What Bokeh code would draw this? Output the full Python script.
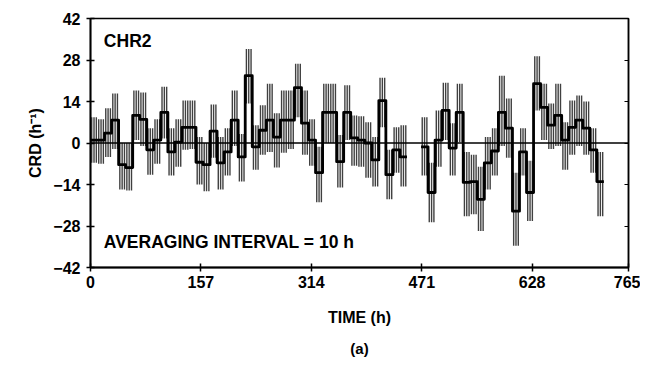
import numpy as np
from bokeh.plotting import figure
from bokeh.models import Range1d, FixedTicker, Span, Label, LinearAxis, Title, ColumnDataSource
from bokeh.embed import file_html
from bokeh.resources import INLINE

nan = float("nan")

# ---- data ----
bin_start = list(range(0, 730, 10))   # 10 h averaging bins
bin_width = 10
mean = [1, 1, 3.3, 7.7, -7.3, -8.3, 9.3, 8, -2.3, 1,
        10.3, -3, 0.3, 5.3, 5.3, -6.5, -7.3, 4, -6.7, -3,
        7.7, -4.7, 22.7, -1.3, 4.3, 7.7, 2, 7.7, 7.7, 18.7,
        6.7, 1, -10, 10.3, 10.3, -6.3, 10.3, 1.7, 1, 0,
        -5.7, 14.3, -10.7, -2.3, -4.7, nan, nan, -1.3, -16.7, 1,
        11, -1.7, 10.3, -13.3, -13, -19, -6.7, -2.7, 10.3, 5,
        -23, -3, -16.7, 20, 12, 6, 9.3, 1, 5.3, 7.7,
        5, -2.3, -13]
upper = [8.7, 8, 11.7, 16.7, 0, 0, 17.7, 17, 5, 8,
         19, 5, 8, 14.3, 14.3, 2, 0, 13, 2, 5,
         17.7, 3, 31.7, 6, 12.7, 20, 10, 17.7, 17.7, 26.7,
         17.7, 8, -1.3, 20, 20, 2.7, 19.5, 9.3, 9, 7,
         2, 22, -2.3, 5.3, 6, nan, nan, 8.7, -6.7, 11,
         20.3, 6.7, 20, -3, -4, -8, 2, 5, 22.7, 15,
         -10, 5, -6, 29.3, 20, 13.3, 20, 7, 14.3, 16,
         14, 5, -3]
lower = [-6.7, -7, -4.7, -2, -15.7, -16, 1, -1, -10.7, -7,
         1.5, -11, -8, -2.3, -2, -14, -16.3, -5, -15.7, -11,
         -1, -13, 13.3, -9, -4, -3, -8.3, -3.3, -2, 8.7,
         -4, -7.7, -20, 0, 0, -15, 1, -7.7, -8, -11.7,
         -14.7, 5.3, -19, -10, -14.7, nan, nan, -11, -26.7, -8,
         1, -11, 0.3, -24.7, -24, -29.7, -15.7, -11, -1, -5,
         -34.7, -11, -26.3, 11, 1, -2, -1, -9, -4, -1,
         -4, -10, -24.7]
x_ticks = [0, 157, 314, 471, 628, 765]
y_ticks = [-42, -28, -14, 0, 14, 28, 42]

# ---- derived geometry ----
s = np.array(bin_start, dtype=float)
m = np.array(mean, dtype=float)
hi = np.array(upper, dtype=float)
lo = np.array(lower, dtype=float)

offsets = np.array([1.7, 5.0, 8.3])
seg_x = (s[:, None] + offsets[None, :]).ravel()
seg_y0 = np.repeat(lo, len(offsets))
seg_y1 = np.repeat(hi, len(offsets))
ok = ~np.isnan(seg_y0)
bars = ColumnDataSource(dict(x=seg_x[ok], y0=seg_y0[ok], y1=seg_y1[ok]))

step_x = np.column_stack([s, s + bin_width]).ravel()
step_y = np.repeat(m, 2)

FONT = "Liberation Sans"

p = figure(frame_width=538, frame_height=249, output_backend="svg", toolbar_location=None,
           x_range=Range1d(0, 765), y_range=Range1d(-42, 42),
           min_border_left=90, min_border_top=18, min_border_right=12, min_border_bottom=95)
p.grid.visible = False
p.background_fill_color = "white"
p.border_fill_color = "white"
p.outline_line_color = "black"
p.outline_line_width = 1.5

p.segment(x0="x", y0="y0", x1="x", y1="y1", source=bars, line_color="#404040", line_width=1.4)
p.add_layout(Span(location=0, dimension="width", line_color="black", line_width=1.6))
p.line(step_x, step_y, line_color="black", line_width=2.8, line_join="round")

for ax in (p.xaxis[0], p.yaxis[0]):
    ax.axis_line_width = 1.8
    ax.axis_line_color = "black"
    ax.major_tick_line_width = 1.5
    ax.major_tick_in = 4
    ax.major_tick_out = 4
    ax.minor_tick_line_color = None
    ax.major_label_text_font = FONT
    ax.major_label_text_font_style = "bold"
    ax.major_label_text_font_size = "16px"
    ax.major_label_text_color = "black"
    ax.axis_label_text_font = FONT
    ax.axis_label_text_font_style = "bold"
    ax.axis_label_text_font_size = "16px"
    ax.axis_label_text_color = "black"

p.xaxis.ticker = FixedTicker(ticks=x_ticks)
p.yaxis.ticker = FixedTicker(ticks=y_ticks)
p.yaxis.major_label_overrides = {t: ("\u2212" + str(-t) if t < 0 else str(t)) for t in y_ticks}
p.xaxis.axis_label = "TIME (h)"
p.yaxis.axis_label = "CRD (h\u207b\u00b9)"
p.xaxis.major_label_standoff = 4
p.xaxis.axis_label_standoff = 18
p.yaxis.major_label_standoff = 6
p.yaxis.axis_label_standoff = 6

right = LinearAxis(ticker=FixedTicker(ticks=y_ticks), major_label_text_color=None,
                   major_tick_in=4, major_tick_out=0, minor_tick_line_color=None,
                   axis_line_width=1.5, major_tick_line_width=1.2)
p.add_layout(right, "right")

p.add_layout(Label(x=19, y=34.3, text="CHR2", text_font=FONT, text_font_style="bold",
                   text_font_size="17.5px", text_baseline="middle", text_color="black"))
p.add_layout(Label(x=19, y=-33.3, text="AVERAGING INTERVAL = 10 h", text_font=FONT,
                   text_font_style="bold", text_font_size="17.5px", text_baseline="middle",
                   text_color="black"))
p.add_layout(Title(text="(a)", align="center", text_font=FONT, text_font_style="bold",
                   text_font_size="15px", standoff=18, text_color="black"), "below")

open("out.html", "w").write(file_html(p, INLINE))
